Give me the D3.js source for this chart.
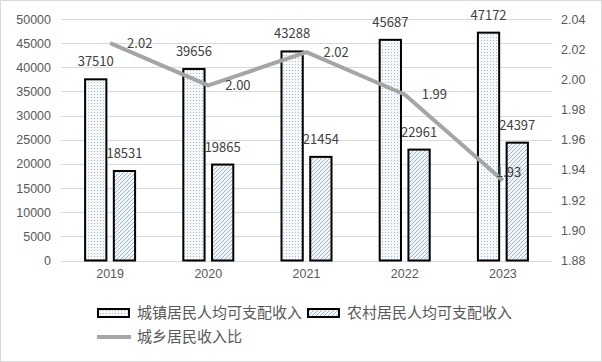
<!DOCTYPE html>
<html>
<head>
<meta charset="utf-8">
<script src="https://cdn.jsdelivr.net/npm/d3@7"></script>
<style>
  body { margin: 0; background: #fff; }
  svg { display: block; font-family: "Noto Sans CJK SC", "Noto Sans", sans-serif; }
</style>
</head>
<body>
<svg id="chart"></svg>
<script>
// 数据
const years = ["2019", "2020", "2021", "2022", "2023"];
const urbanIncome = [37510, 39656, 43288, 45687, 47172];
const ruralIncome = [18531, 19865, 21454, 22961, 24397];
const incomeRatio = [2.024, 1.996, 2.018, 1.990, 1.933];
const ratioLabels = ["2.02", "2.00", "2.02", "1.99", "1.93"];
const leftTicks = [0, 5000, 10000, 15000, 20000, 25000, 30000, 35000, 40000, 45000, 50000];
const rightTicks = [1.88, 1.90, 1.92, 1.94, 1.96, 1.98, 2.00, 2.02, 2.04];
const seriesNames = ["城镇居民人均可支配收入", "农村居民人均可支配收入", "城乡居民收入比"];

const width = 602, height = 362;
const plotL = 61, plotR = 552, plotT = 19, plotB = 260.5;

const svg = d3.select("#chart").attr("width", width).attr("height", height);

// 图案
const defs = svg.append("defs");
const dots = defs.append("pattern").attr("id", "dots")
  .attr("patternUnits", "userSpaceOnUse").attr("width", 3).attr("height", 3);
dots.append("rect").attr("width", 3).attr("height", 3).attr("fill", "#f6f8fa");
dots.append("rect").attr("x", 1).attr("y", 1).attr("width", 1).attr("height", 1).attr("fill", "#a3b9c7");

const hatch = defs.append("pattern").attr("id", "hatch")
  .attr("patternUnits", "userSpaceOnUse").attr("width", 4).attr("height", 4);
hatch.append("rect").attr("width", 4).attr("height", 4).attr("fill", "#f2f6f8");
hatch.append("path").attr("d", "M-1,1 l2,-2 M0,4 l4,-4 M3,5 l2,-2")
  .attr("stroke", "#95afc0").attr("stroke-width", 0.9);

// 外框
svg.append("rect").attr("x", 0.5).attr("y", 0.5).attr("width", width - 1).attr("height", height - 1)
  .attr("fill", "none").attr("stroke", "#d9d9d9");

// 比例尺
const x = d3.scaleBand().domain(years).range([plotL, plotR]);
const sub = d3.scaleBand().domain(["u", "r"]).range([-25, 25]).paddingInner(0.26);
const y = d3.scaleLinear().domain([0, 50000]).range([plotB, plotT]);
const y2 = d3.scaleLinear().domain([1.88, 2.04]).range([plotB, plotT]);

// 网格线
svg.append("g").selectAll("line").data(leftTicks).join("line")
  .attr("x1", plotL).attr("x2", plotR)
  .attr("y1", d => Math.round(y(d)) + 0.5).attr("y2", d => Math.round(y(d)) + 0.5)
  .attr("stroke", "#d9d9d9").attr("stroke-width", 1);

// 坐标轴
const leftAxis = svg.append("g").attr("transform", `translate(${plotL - 10},0)`)
  .call(d3.axisLeft(y).tickValues(leftTicks).tickSize(0).tickPadding(0).tickFormat(d3.format("d")));
const rightAxis = svg.append("g").attr("transform", `translate(${plotR + 9},0)`)
  .call(d3.axisRight(y2).tickValues(rightTicks).tickSize(0).tickPadding(0).tickFormat(d3.format(".2f")));
const bottomAxis = svg.append("g").attr("transform", `translate(0,${plotB + 9})`)
  .call(d3.axisBottom(x).tickSize(0).tickPadding(0));
[leftAxis, rightAxis, bottomAxis].forEach(a => {
  a.select(".domain").remove();
  a.selectAll("text").attr("fill", "#595959").style("font-size", "12.5px");
});

// 柱形
const bars = [
  { key: "u", values: urbanIncome, fill: "url(#dots)" },
  { key: "r", values: ruralIncome, fill: "url(#hatch)" }
];
bars.forEach(s => {
  const g = svg.append("g");
  g.selectAll("rect").data(s.values).join("rect")
    .attr("x", (d, i) => x(years[i]) + x.bandwidth() / 2 + sub(s.key))
    .attr("width", sub.bandwidth())
    .attr("y", d => y(d))
    .attr("height", d => y(0) - y(d))
    .attr("fill", s.fill)
    .attr("stroke", "#000").attr("stroke-width", 2);
  g.selectAll("text").data(s.values).join("text")
    .attr("x", (d, i) => x(years[i]) + x.bandwidth() / 2 + sub(s.key) + sub.bandwidth() / 2)
    .attr("y", d => y(d) - 13)
    .attr("text-anchor", "middle")
    .attr("fill", "#404040").style("font-size", "13px")
    .text(d => d);
});

// 折线
const line = d3.line()
  .x((d, i) => x(years[i]) + x.bandwidth() / 2)
  .y(d => y2(d));
svg.append("path").datum(incomeRatio)
  .attr("d", line)
  .attr("fill", "none").attr("stroke", "#a5a5a5").attr("stroke-width", 4)
  .attr("stroke-linejoin", "round");

svg.append("g").selectAll("text").data(incomeRatio).join("text")
  .attr("x", (d, i) => x(years[i]) + x.bandwidth() / 2 + (i === 4 ? -7 : 17))
  .attr("y", (d, i) => y2(d) + (i === 4 ? -8 : 0))
  .attr("dy", "0.35em")
  .attr("fill", "#404040").style("font-size", "13px")
  .text((d, i) => ratioLabels[i]);

// 图例
const legend = svg.append("g").style("font-size", "15px").attr("fill", "#595959");
legend.append("rect").attr("x", 98).attr("y", 309).attr("width", 31).attr("height", 8)
  .attr("fill", "url(#dots)").attr("stroke", "#000").attr("stroke-width", 2);
legend.append("text").attr("x", 137).attr("y", 313).attr("dy", "0.35em").text(seriesNames[0]);
legend.append("rect").attr("x", 308).attr("y", 309).attr("width", 31).attr("height", 8)
  .attr("fill", "url(#hatch)").attr("stroke", "#000").attr("stroke-width", 2);
legend.append("text").attr("x", 347).attr("y", 313).attr("dy", "0.35em").text(seriesNames[1]);
legend.append("line").attr("x1", 97).attr("x2", 131).attr("y1", 337).attr("y2", 337)
  .attr("stroke", "#a5a5a5").attr("stroke-width", 4);
legend.append("text").attr("x", 137).attr("y", 337).attr("dy", "0.35em").text(seriesNames[2]);
</script>
</body>
</html>
